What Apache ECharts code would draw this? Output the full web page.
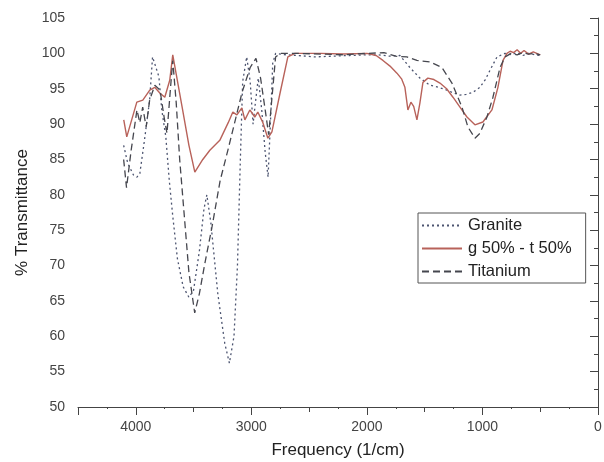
<!DOCTYPE html>
<html>
<head>
<meta charset="utf-8">
<script src="https://cdn.jsdelivr.net/npm/echarts@6/dist/echarts.min.js"></script>
<style>html,body{margin:0;padding:0;background:#fff;}#c{width:604px;height:462px;}</style>
</head>
<body>
<div id="c"></div>
<script>
// Wavenumber (1/cm) and % transmittance
const graniteX = [4105,4070,4020,3990,3965,3925,3880,3855,3800,3775,3740,3710,3680,3640,3590,3540,3500,3450,3410,3385,3350,3290,3230,3190,3150,3120,3095,3075,3040,3010,2985,2965,2940,2910,2880,2855,2830,2815,2790,2700,2600,2450,2300,2150,2000,1900,1800,1714,1628,1541,1455,1380,1307,1250,1195,1140,1082,1022,975,935,874,805,750,700,650,600,550,500];
const graniteY = [87,84.5,82.8,82.5,83,87.7,93.4,99.5,96.7,92,88.2,82,77,71,67,65.5,66.5,72,78,80,76,66,59,56.2,60,70,85,96,99.5,96,90,93,96.5,92,86,82.5,92,98.6,100,99.8,99.7,99.5,99.6,99.7,99.8,99.8,99.6,99.7,98,96.5,95.5,95.2,94.8,94.4,94.1,94.2,94.5,95.2,96.3,97.6,99.5,100,99.8,100.1,99.7,100,99.8,99.7];

const mixX = [4104,4078,3991,3939,3879,3836,3792,3749,3706,3680,3600,3540,3489,3420,3359,3273,3200,3160,3125,3082,3056,3013,2970,2944,2900,2857,2822,2750,2684,2623,2400,2200,2000,1920,1861,1800,1740,1700,1671,1645,1619,1595,1567,1541,1515,1472,1420,1368,1310,1255,1190,1134,1065,996,918,866,822,788,760,730,700,670,640,600,560,530,500];
const mixY = [90.6,88.2,93.1,93.4,94.8,95.2,94.4,93.8,96.2,99.8,92.5,87,83.2,85,86.3,87.7,90.2,91.7,91.3,92.3,90.6,92,91,91.7,90.2,88,88.9,94.5,99.5,100,100,99.9,100,99.7,99,98.2,97.2,96.4,95.2,92,93.1,92.5,90.6,93,95.9,96.5,96.3,95.8,95,93.8,92.3,91,89.9,90.3,92,95.2,99,100,100.3,100.1,100.5,100,100.4,99.9,100.2,100,99.8];

const titaniumX = [4105,4080,4040,3990,3965,3940,3910,3880,3835,3790,3755,3730,3700,3680,3650,3620,3580,3540,3490,3450,3400,3340,3270,3200,3140,3080,3010,2960,2920,2880,2850,2820,2790,2750,2600,2400,2200,2000,1853,1750,1654,1567,1455,1351,1264,1177,1126,1065,1022,961,909,848,805,750,700,650,600,550,500];
const titaniumY = [85,81,86.3,92,90.2,92.4,89.6,93.4,95.5,94.8,91,88.7,95,99,93,85,77,69,63.3,66,70.5,75.5,82,86.5,90.5,94.5,98,99.3,96.5,92,88.5,94,99.5,100,100,99.9,99.8,100,100.1,99.6,99.5,99,98.8,98,95.8,92.4,89.6,88,88.7,91,93.8,98,99.5,100,99.8,100.1,99.9,100,99.8];

const xTicks = [0,1000,2000,3000,4000];
const yTicks = [50,55,60,65,70,75,80,85,90,95,100,105];
const seriesNames = ['Granite','g 50% - t 50%','Titanium'];

const zip = (xs, ys) => xs.map((x, i) => [x, ys[i]]);
const FONT = 'Liberation Sans, Arial, sans-serif';
const chart = echarts.init(document.getElementById('c'));
chart.setOption({
  animation: false,
  backgroundColor: '#ffffff',
  grid: {left: 78, right: 6, top: 18, bottom: 55, containLabel: false, outerBoundsMode: 'none'},
  legend: {
    orient: 'vertical', left: 418, top: 213,
    backgroundColor: '#fff', borderColor: '#555', borderWidth: 1,
    padding: [4, 14, 3, 3], itemWidth: 40, itemHeight: 14, itemGap: 6,
    itemStyle: {opacity: 0},
    textStyle: {fontFamily: FONT, fontSize: 16.5, color: '#222', padding: [0,0,0,1]},
    data: seriesNames
  },
  xAxis: [{
    type: 'value', inverse: true, min: 0, max: 4500, interval: 1000, position: 'bottom',
    name: 'Frequency (1/cm)', nameLocation: 'middle', nameGap: 35,
    nameTextStyle: {fontFamily: FONT, fontSize: 17, color: '#222'},
    axisLine: {lineStyle: {color: '#444', width: 1}},
    axisTick: {length: 8, lineStyle: {color: '#444'}},
    axisLabel: {margin: 13, fontFamily: FONT, fontSize: 14, color: '#444',
      formatter: v => xTicks.includes(v) ? String(v) : ''},
    splitLine: {show: false}
  }, {
    type: 'value', inverse: true, min: 0, max: 4500, interval: 500, position: 'bottom', offset: 0,
    axisLine: {show: false},
    axisTick: {length: 5, lineStyle: {color: '#444'}},
    minorTick: {show: true, splitNumber: 2, length: 2, lineStyle: {color: '#444'}},
    axisLabel: {show: false},
    splitLine: {show: false}
  }],
  yAxis: {
    type: 'value', min: 50, max: 105, interval: 5,
    name: '% Transmittance', nameLocation: 'middle', nameGap: 46,
    nameTextStyle: {fontFamily: FONT, fontSize: 17, color: '#222'},
    axisLine: {show: true, lineStyle: {color: '#444', width: 1}},
    axisTick: {show: true, length: 8, lineStyle: {color: '#444'}},
    minorTick: {show: true, splitNumber: 2, length: 4, lineStyle: {color: '#444'}},
    axisLabel: {margin: 13, fontFamily: FONT, fontSize: 14, color: '#444',
      formatter: v => yTicks.includes(v) ? String(v) : ''},
    splitLine: {show: false}
  },
  series: [{
    name: seriesNames[0], type: 'line', symbol: 'none', xAxisIndex: 0,
    data: zip(graniteX, graniteY),
    lineStyle: {color: '#4c5470', width: 1.3, type: [2, 3]},
    itemStyle: {color: '#4c5470'}
  }, {
    name: seriesNames[1], type: 'line', symbol: 'none', xAxisIndex: 0,
    data: zip(mixX, mixY),
    lineStyle: {color: '#b8625a', width: 1.4, type: 'solid'},
    itemStyle: {color: '#b8625a'}
  }, {
    name: seriesNames[2], type: 'line', symbol: 'none', xAxisIndex: 0,
    data: zip(titaniumX, titaniumY),
    lineStyle: {color: '#45464e', width: 1.3, type: [7, 4]},
    itemStyle: {color: '#45464e'}
  }]
});
</script>
</body>
</html>
